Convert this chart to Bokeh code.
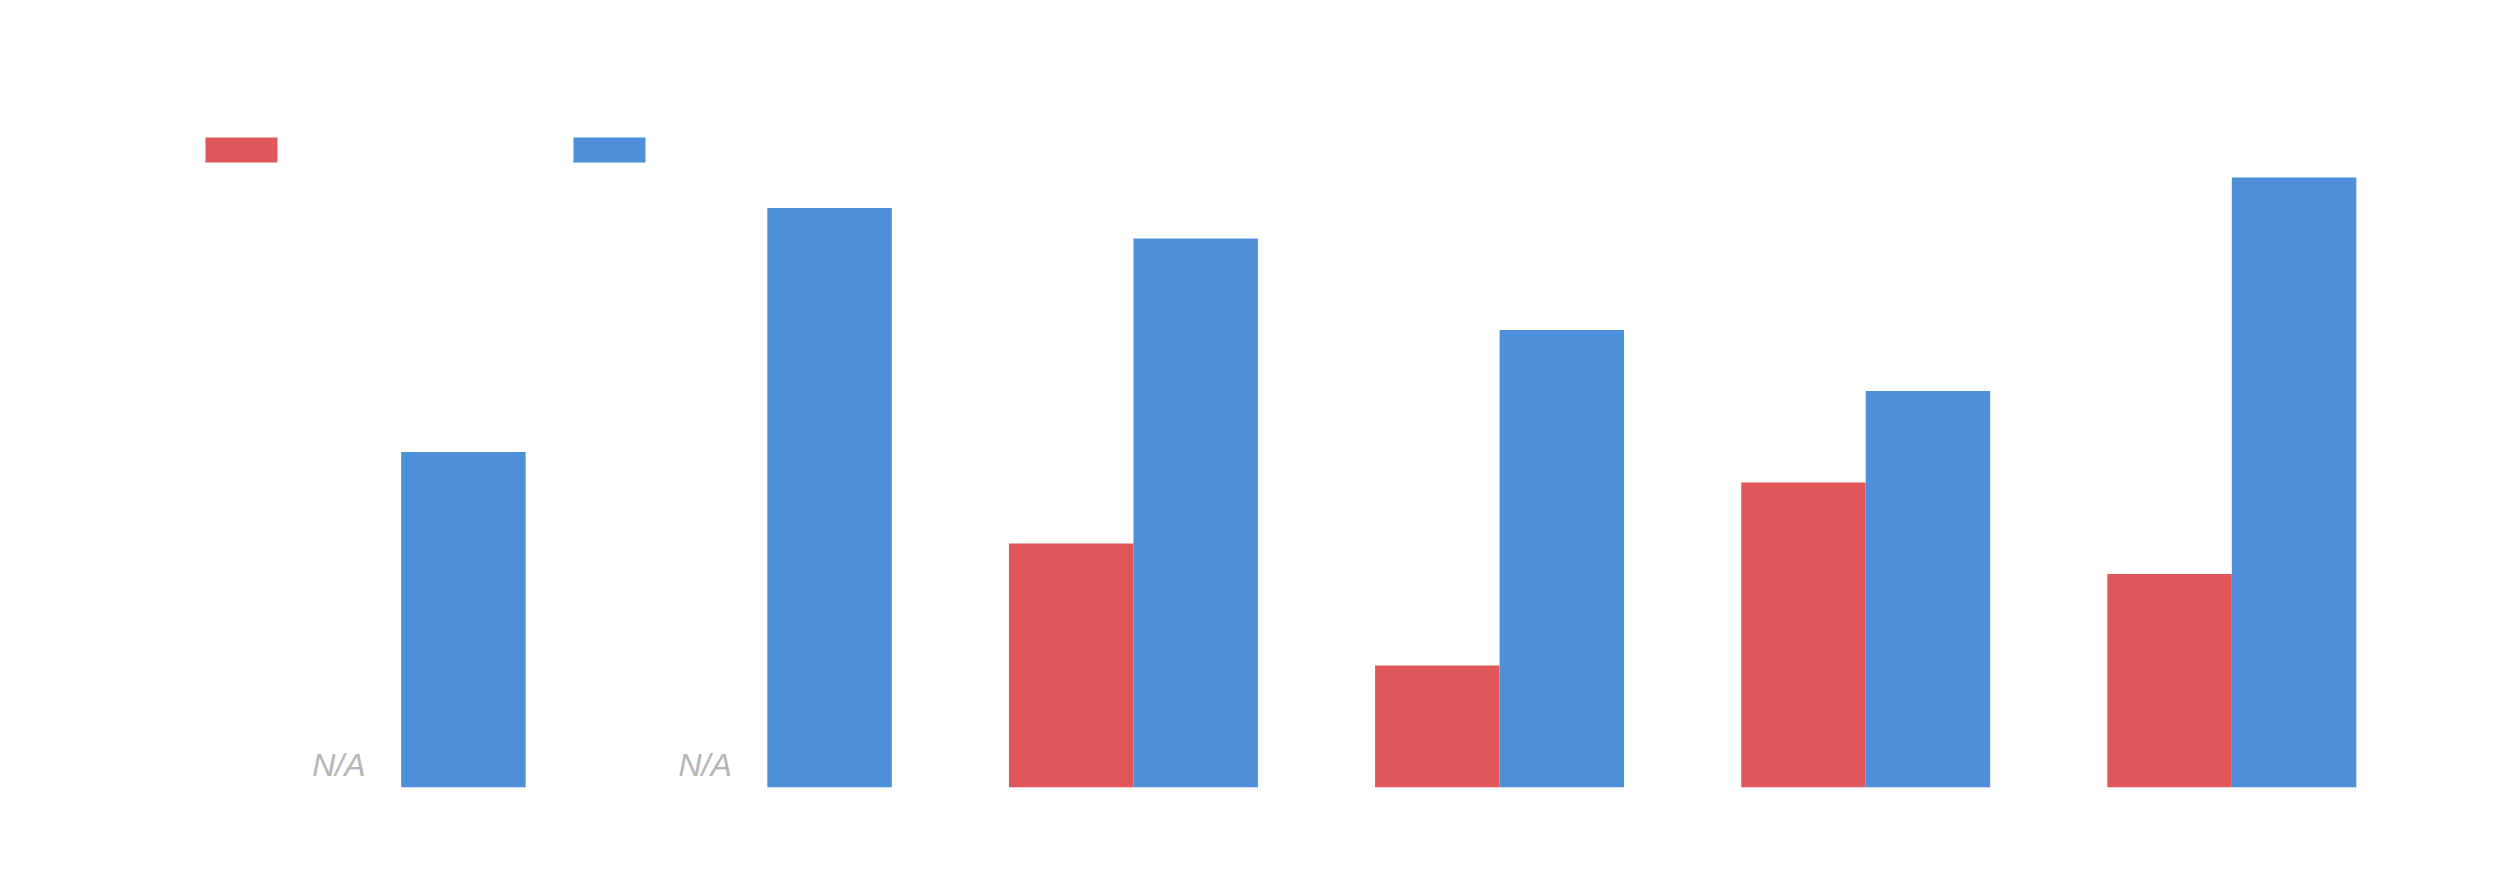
from bokeh.plotting import figure
from bokeh.models import FactorRange, Range1d, Legend, LegendItem, ColumnDataSource
from bokeh.transform import dodge
from bokeh.core.properties import value
from bokeh.embed import file_html
from bokeh.resources import INLINE

categories = ["A", "B", "C", "D", "E", "F"]
red_values = [None, None, 40, 20, 50, 35]
blue_values = [55, 95, 90, 75, 65, 100]
na_label = "N/A"

RED = "#e15759"
BLUE = "#4d90d9"

red_x = [c for c, v in zip(categories, red_values) if v is not None]
red_y = [v for v in red_values if v is not None]
na_x = [c for c, v in zip(categories, red_values) if v is None]

src_red = ColumnDataSource(dict(x=red_x, y=red_y))
src_blue = ColumnDataSource(dict(x=categories, y=blue_values))
src_na = ColumnDataSource(dict(x=na_x, y=[0] * len(na_x), t=[na_label] * len(na_x)))

p = figure(
    x_range=FactorRange(*categories, range_padding=0.1, range_padding_units="absolute"),
    y_range=Range1d(0, 120),
    width=2480, height=860,
    min_border_left=181, min_border_right=29,
    min_border_top=55, min_border_bottom=73,
    x_axis_location=None, y_axis_location=None,
    toolbar_location=None, output_backend="svg",
)
p.outline_line_color = None
p.xgrid.visible = False
p.ygrid.visible = False
p.background_fill_color = "white"
p.border_fill_color = "white"

r_red = p.vbar(x=dodge("x", -0.17, range=p.x_range), top="y", width=0.34,
               source=src_red, fill_color=RED, line_color=None)
r_blue = p.vbar(x=dodge("x", 0.17, range=p.x_range), top="y", width=0.34,
                source=src_blue, fill_color=BLUE, line_color=None)

p.text(x=dodge("x", -0.17, range=p.x_range), y="y", text="t", source=src_na,
       text_font=value("Liberation Sans"), text_font_style="italic",
       text_font_size="32px", text_color="#b5b5b5",
       text_align="center", text_baseline="alphabetic", y_offset=-23)

legend = Legend(
    items=[LegendItem(label="", renderers=[r_red]),
           LegendItem(label="", renderers=[r_blue])],
    orientation="horizontal",
    location=(15, 622),
    glyph_width=90, glyph_height=31,
    label_standoff=0, label_width=278, label_height=1,
    label_text_font_size="1px",
    spacing=0, padding=0, margin=0,
    border_line_color=None, background_fill_alpha=0,
)
p.add_layout(legend, "center")

open("out.html", "w").write(file_html(p, INLINE))
